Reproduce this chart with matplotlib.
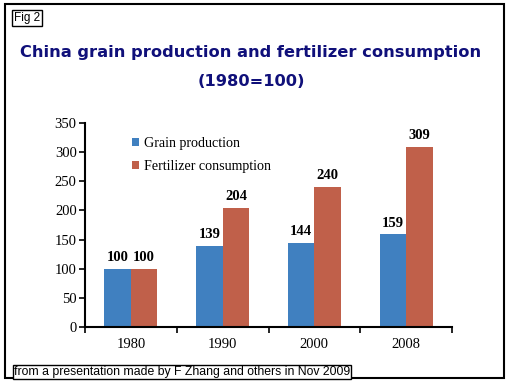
import matplotlib.pyplot as plt
import matplotlib.patches as mpatches
import numpy as np

years = ["1980", "1990", "2000", "2008"]
grain = [100, 139, 144, 159]
fertilizer = [100, 204, 240, 309]
yticks = [0, 50, 100, 150, 200, 250, 300, 350]

blue = "#4080C0"
red = "#C0604A"
navy = "#10107A"

W, H = 509, 382
fig = plt.figure(figsize=(W / 100, H / 100), dpi=100)

# outer frame
fig.patches.append(mpatches.Rectangle((5 / W, 1 - 378 / H), 499 / W, 374 / H, transform=fig.transFigure,
                                      fill=False, edgecolor="black", linewidth=1.5))

ax = fig.add_axes([85 / W, 1 - 327 / H, (452 - 85) / W, (327 - 123) / H])
x = np.arange(len(years))
w = 0.29
b1 = ax.bar(x - w / 2, grain, w, color=blue, label="Grain production")
b2 = ax.bar(x + w / 2, fertilizer, w, color=red, label="Fertilizer consumption")

for bars, vals in ((b1, grain), (b2, fertilizer)):
    for r, v in zip(bars, vals):
        ax.text(r.get_x() + r.get_width() / 2, v + 8, str(v), ha="center", va="bottom",
                fontsize=10.5, fontweight="bold", family="Liberation Serif")

ax.set_xlim(-0.5, len(years) - 0.5)
ax.set_ylim(0, 350)
ax.set_yticks(yticks)
ax.set_yticklabels([str(t) for t in yticks], family="Liberation Serif", fontsize=10.5)
ax.set_xticks(x)
ax.set_xticklabels(years, family="Liberation Serif", fontsize=10.5)
ax.set_xticks(np.arange(-0.5, len(years)), minor=True)
ax.tick_params(axis="x", which="major", length=0, pad=8)
ax.tick_params(axis="x", which="minor", length=4, width=1.2, direction="out")
ax.tick_params(axis="y", length=4, width=1.2, direction="out", pad=2)
for s in ("top", "right"):
    ax.spines[s].set_visible(False)
for s in ("left", "bottom"):
    ax.spines[s].set_linewidth(1.5)

ax.legend(loc="upper left", bbox_to_anchor=(0.093, 0.995), frameon=False,
          prop={"family": "Liberation Serif", "size": 10.1},
          handlelength=0.5, handleheight=0.5, handletextpad=0.35, labelspacing=0.75)

# titles
fig.text(251 / W, 1 - 52 / H, "China grain production and fertilizer consumption",
         ha="center", va="center", fontsize=11.7, fontweight="bold", color=navy)
fig.text(251 / W, 1 - 81 / H, "(1980=100)", ha="center", va="center",
         fontsize=11.7, fontweight="bold", color=navy)

fig.text(14 / W, 1 - 18 / H, "Fig 2", ha="left", va="center", fontsize=8.5,
         family="Liberation Sans",
         bbox=dict(boxstyle="square,pad=0.15", facecolor="white", edgecolor="black", linewidth=1))
fig.text(14 / W, 1 - 372 / H, "from a presentation made by F Zhang and others in Nov 2009",
         ha="left", va="center", fontsize=8.8, family="Liberation Sans",
         bbox=dict(boxstyle="square,pad=0.1", facecolor="white", edgecolor="black", linewidth=1))

fig.savefig("out.png", dpi=100)
